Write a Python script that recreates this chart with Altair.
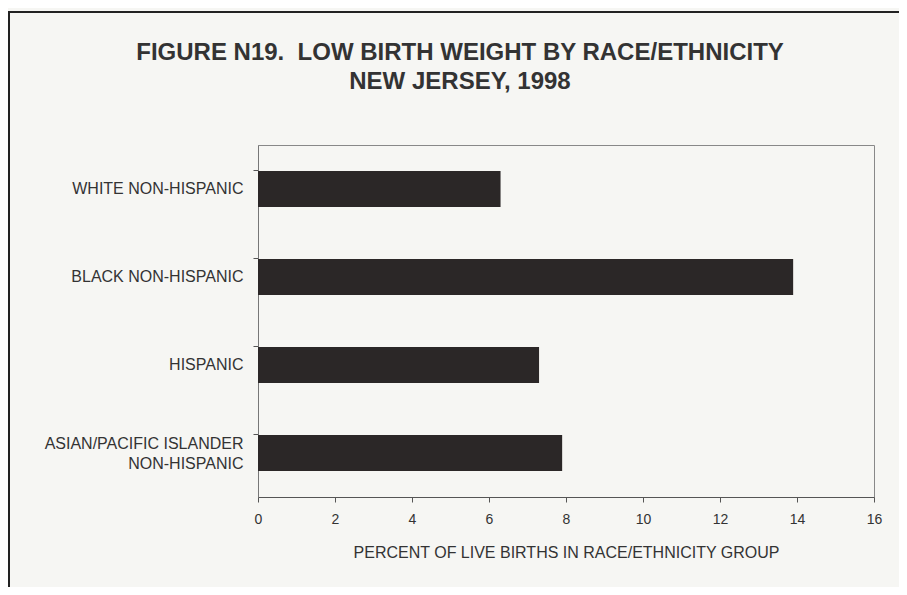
import altair as alt
import pandas as pd

categories = ["WHITE NON-HISPANIC", "BLACK NON-HISPANIC", "HISPANIC",
              "ASIAN/PACIFIC ISLANDER|NON-HISPANIC"]
values = [6.3, 13.9, 7.3, 7.9]
x_ticks = [0, 2, 4, 6, 8, 10, 12, 14, 16]
title_lines = ["FIGURE N19.\u00a0 LOW BIRTH WEIGHT BY RACE/ETHNICITY", "NEW JERSEY, 1998"]

df = pd.DataFrame({"group": categories, "pct": values})

FONT = "Liberation Sans"
TXT = "#333333"

bars = alt.Chart(df).mark_bar(color="#2b2727").encode(
    x=alt.X("pct:Q",
            scale=alt.Scale(domain=[0, 16], nice=False),
            axis=alt.Axis(values=x_ticks, grid=False, title="PERCENT OF LIVE BIRTHS IN RACE/ETHNICITY GROUP",
                          labelFont=FONT, labelFontSize=14, labelColor=TXT, labelPadding=10,
                          labelFlush=False,
                          titleFont=FONT, titleFontSize=16, titleFontWeight="normal", titleColor=TXT,
                          titlePadding=18, domainColor="#555555", tickColor="#555555", tickSize=5)),
    y=alt.Y("group:N", sort=categories,
            scale=alt.Scale(paddingInner=0.59, paddingOuter=0.295),
            axis=alt.Axis(title=None, labelExpr="split(datum.label, '|')",
                          labelFont=FONT, labelFontSize=16, labelColor=TXT, labelPadding=10,
                          labelLimit=300,
                          labelOffset={"expr": "indexof(datum.value, '|') >= 0 ? -9 : 0"},
                          labelLineHeight=20, bandPosition=0, domainColor="#777777",
                          tickColor="#555555", tickSize=5)),
)

frame_left = alt.Chart(df).mark_rule(color="#222222", strokeWidth=2).encode(
    x=alt.value(-249), y=alt.value(-133), y2=alt.value(460))
frame_top = alt.Chart(df).mark_rule(color="#222222", strokeWidth=2).encode(
    x=alt.value(-250), x2=alt.value(660), y=alt.value(-133))

title1 = alt.Chart(pd.DataFrame({"t": [title_lines[0]]})).mark_text(
    font=FONT, fontSize=24, fontWeight="bold", color=TXT, align="center",
    baseline="alphabetic").encode(text="t:N", x=alt.value(202), y=alt.value(-85))
title2 = alt.Chart(pd.DataFrame({"t": [title_lines[1]]})).mark_text(
    font=FONT, fontSize=24, fontWeight="bold", color=TXT, align="center",
    baseline="alphabetic").encode(text="t:N", x=alt.value(202), y=alt.value(-56))

chart = alt.layer(frame_left, frame_top, title1, title2, bars).properties(
    width=616, height=352,
    autosize=alt.AutoSizeParams(type="none"),
    padding={"left": 250, "top": 137, "right": 25, "bottom": 90},
    background="#f6f6f3",
).configure_view(stroke="#888888", strokeWidth=1)

chart.save("out.html", embed_options={"renderer": "svg", "actions": False})
